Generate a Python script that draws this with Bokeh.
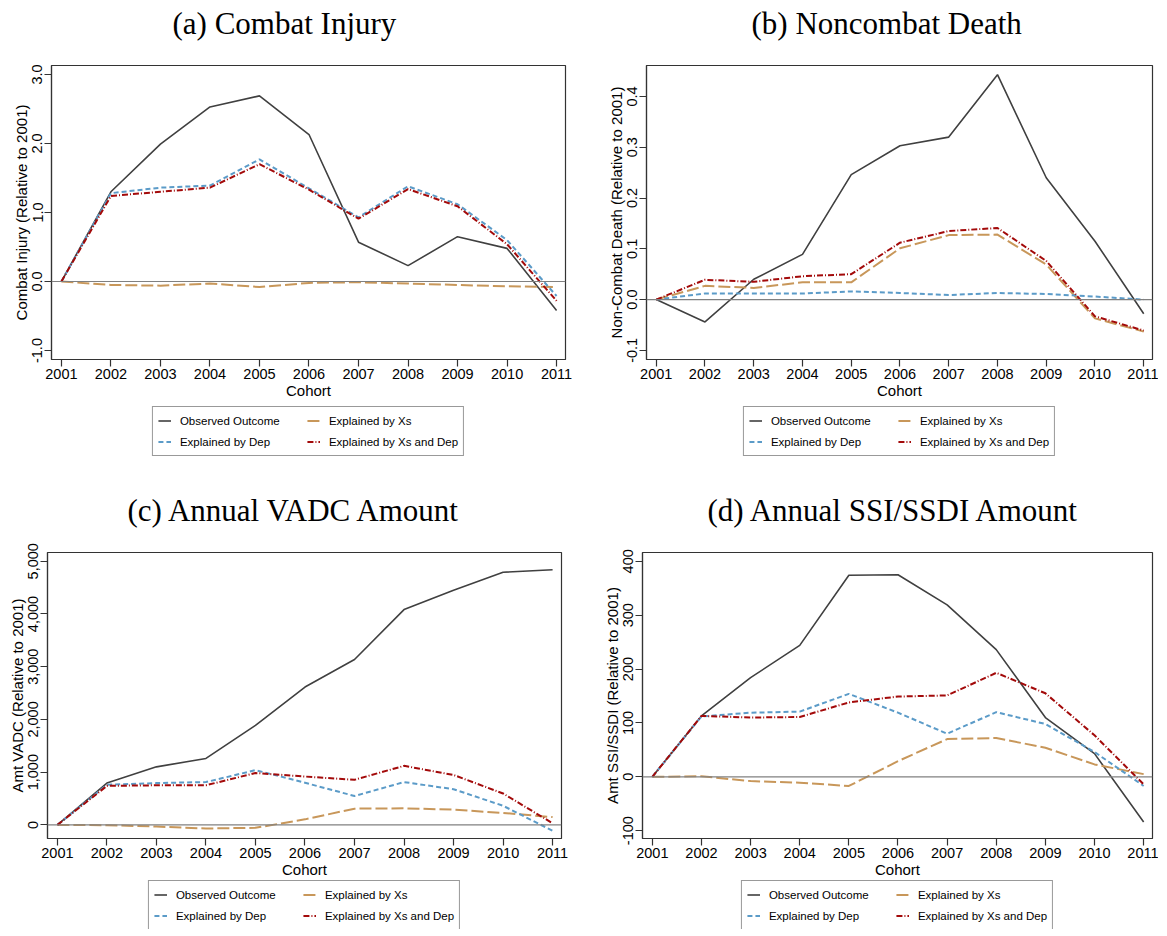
from bokeh.plotting import figure
from bokeh.models import Range1d, FixedTicker, NumeralTickFormatter, Span, Legend, LegendItem, Title
from bokeh.layouts import column, row
from bokeh.embed import file_html
from bokeh.resources import INLINE

years = list(range(2001, 2012))

# (a) Combat Injury
inj_obs = [0, 1.30, 1.99, 2.53, 2.69, 2.13, 0.57, 0.23, 0.65, 0.48, -0.42]
inj_xs = [0, -0.05, -0.06, -0.03, -0.08, -0.02, -0.01, -0.03, -0.05, -0.07, -0.08]
inj_dep = [0, 1.28, 1.36, 1.39, 1.77, 1.35, 0.93, 1.38, 1.12, 0.60, -0.21]
inj_both = [0, 1.24, 1.30, 1.36, 1.70, 1.33, 0.91, 1.34, 1.09, 0.54, -0.28]

# (b) Noncombat Death
ncd_obs = [0, -0.044, 0.040, 0.089, 0.246, 0.303, 0.320, 0.443, 0.240, 0.115, -0.028]
ncd_xs = [0, 0.027, 0.023, 0.034, 0.034, 0.101, 0.127, 0.128, 0.069, -0.037, -0.063]
ncd_dep = [0, 0.012, 0.012, 0.012, 0.016, 0.013, 0.009, 0.013, 0.011, 0.006, 0.0]
ncd_both = [0, 0.039, 0.035, 0.046, 0.050, 0.112, 0.135, 0.141, 0.076, -0.033, -0.061]

# (c) Annual VADC Amount
vadc_obs = [0, 793, 1101, 1260, 1888, 2614, 3137, 4083, 4452, 4791, 4840]
vadc_xs = [0, -5, -31, -68, -55, 105, 308, 314, 289, 227, 148]
vadc_dep = [0, 762, 793, 812, 1039, 799, 548, 812, 677, 363, -111]
vadc_both = [0, 740, 751, 751, 984, 917, 855, 1120, 947, 596, 31]

# (d) Annual SSI/SSDI Amount
ssi_obs = [0, 113, 184, 244, 374, 375, 319, 236, 110, 43, -84]
ssi_xs = [0, 1, -8, -11, -17, 29, 70, 72, 54, 23, 5]
ssi_dep = [0, 112, 119, 121, 154, 119, 80, 120, 98, 46, -17]
ssi_both = [0, 113, 110, 111, 138, 149, 151, 193, 155, 77, -14]

legend_labels = ["Observed Outcome", "Explained by Xs", "Explained by Dep", "Explained by Xs and Dep"]

SANS = "Liberation Sans"
SERIF = "Liberation Serif"

STYLES = [
    dict(line_color="#404040", line_width=1.6),
    dict(line_color="#C8975A", line_width=2, line_dash="12 4"),
    dict(line_color="#5B9BC8", line_width=2, line_dash="5 3"),
    dict(line_color="#A30A0A", line_width=2, line_dash="6 2 1 2"),
]


def draw_lines(p, series):
    return [p.line(years, s, **st) for s, st in zip(series, STYLES)]


def panel(title, ylabel, series, y_range, yticks, yfmt, fw, fh, bl, br, toff):
    p = figure(frame_width=fw, frame_height=fh,
               x_range=Range1d(2000.8, 2011.18), y_range=Range1d(*y_range),
               output_backend="svg", toolbar_location=None,
               min_border_left=bl, min_border_right=br,
               min_border_top=0, min_border_bottom=0)
    # main title (outermost)
    p.title.text = title
    p.title.text_font = SERIF
    p.title.text_font_size = "31px"
    p.title.text_font_style = "normal"
    p.title.text_color = "black"
    p.title.align = "left"
    p.title.offset = toff
    p.title.standoff = 6
    # spacer between the title and the frame
    p.add_layout(Title(text=" ", text_font_size="2px", standoff=18), "above")
    p.xgrid.visible = False
    p.ygrid.visible = False
    p.outline_line_color = "#333333"
    p.outline_line_width = 1.2

    for ax in (p.xaxis[0], p.yaxis[0]):
        ax.axis_line_color = "#333333"
        ax.axis_line_width = 1.2
        ax.major_tick_line_color = "#333333"
        ax.major_tick_line_width = 1.2
        ax.major_tick_out = 7
        ax.major_tick_in = 0
        ax.minor_tick_line_color = None
        ax.major_label_text_font = SANS
        ax.major_label_text_font_size = "14.5px"
        ax.major_label_text_color = "black"
        ax.major_label_standoff = 2
        ax.axis_label_text_font = SANS
        ax.axis_label_text_font_size = "15px"
        ax.axis_label_text_font_style = "normal"
        ax.axis_label_text_color = "black"
        ax.axis_label_standoff = 0

    p.xaxis.ticker = FixedTicker(ticks=years)
    p.xaxis.axis_label = "Cohort"

    p.yaxis.ticker = FixedTicker(ticks=yticks)
    p.yaxis.formatter = NumeralTickFormatter(format=yfmt)
    p.yaxis.major_label_orientation = "vertical"
    p.yaxis.axis_label = ylabel

    p.add_layout(Span(location=0, dimension="width", line_color="#808080", line_width=1.2))
    draw_lines(p, series)
    return p


def legend_fig(series, fw, bl, br, h, top_margin):
    q = figure(frame_width=fw, height=h,
               x_range=Range1d(0, 1), y_range=Range1d(0, 1),
               x_axis_type=None, y_axis_type=None,
               output_backend="svg", toolbar_location=None,
               min_border_left=bl, min_border_right=br,
               min_border_top=0, min_border_bottom=0)
    q.outline_line_color = None
    q.xgrid.visible = False
    q.ygrid.visible = False
    rs = draw_lines(q, series)
    items = [LegendItem(label=lab, renderers=[r]) for lab, r in zip(legend_labels, rs)]
    leg = Legend(items=items, orientation="horizontal", ncols=2,
                 location="top_center", margin=top_margin,
                 glyph_width=13, glyph_height=17, label_height=17,
                 label_width=123, label_standoff=9, spacing=4, padding=5,
                 label_text_font=SANS, label_text_font_size="11.5px",
                 label_text_color="black",
                 border_line_color="#333333", border_line_width=1.2,
                 background_fill_color="white")
    q.add_layout(leg, "center")
    return q


sa = (inj_obs, inj_xs, inj_dep, inj_both)
sb = (ncd_obs, ncd_xs, ncd_dep, ncd_both)
sc = (vadc_obs, vadc_xs, vadc_dep, vadc_both)
sd = (ssi_obs, ssi_xs, ssi_dep, ssi_both)

pa = panel("(a) Combat Injury", "Combat Injury (Relative to 2001)", sa, (-1.13, 3.13),
           [-1, 0, 1, 2, 3], "0.0", 514, 294, 51, 14, 121)
pb = panel("(b) Noncombat Death", "Non-Combat Death (Relative to 2001)", sb, (-0.118, 0.461),
           [-0.1, 0, 0.1, 0.2, 0.3, 0.4], "0.0", 506, 294, 67, 6, 105)
pc = panel("(c) Annual VADC Amount", "Amt VADC (Relative to 2001)", sc, (-258, 5166),
           [0, 1000, 2000, 3000, 4000, 5000], "0,0", 514, 286, 47, 18, 80)
pd_ = panel("(d) Annual SSI/SSDI Amount", "Amt SSI/SSDI (Relative to 2001)", sd, (-114.5, 416.3),
            [-100, 0, 100, 200, 300, 400], "0", 510, 286, 63, 6, 65)

la = legend_fig(sa, 514, 51, 14, 86, 5)
lb = legend_fig(sb, 506, 67, 6, 86, 5)
lc = legend_fig(sc, 514, 47, 18, 49, 0)
ld = legend_fig(sd, 510, 63, 6, 49, 0)

layout = column(row(column(pa, la), column(pb, lb)),
                row(column(pc, lc), column(pd_, ld)))
open("out.html", "w").write(file_html(layout, INLINE))
